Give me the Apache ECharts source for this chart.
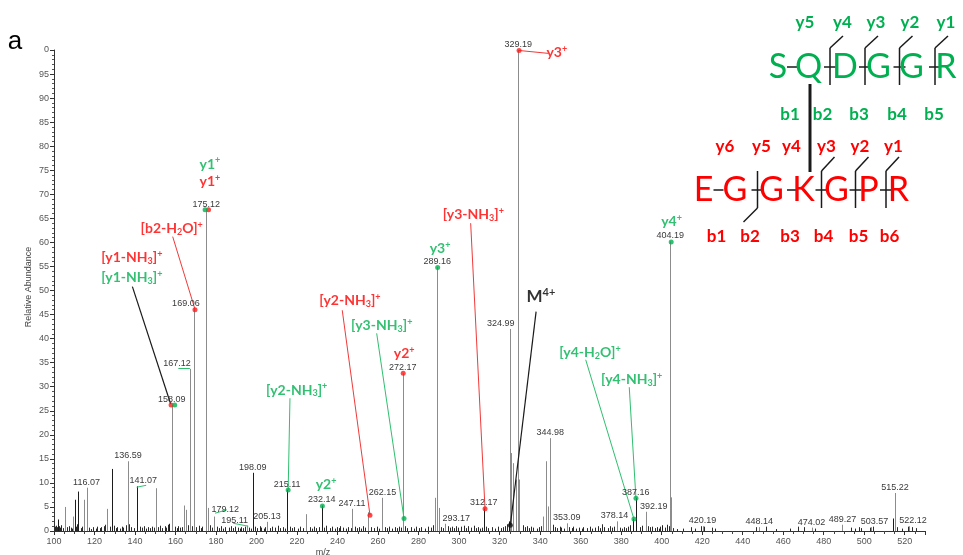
<!DOCTYPE html>
<html><head><meta charset="utf-8">
<script src="https://cdn.jsdelivr.net/npm/echarts@6/dist/echarts.min.js"></script>
<style>html,body{margin:0;padding:0;background:#fff}#c{width:963px;height:555px}</style>
</head><body><div id="c"></div>
<script>
// ---------------- DATA ----------------
const xTickValues = [100,120,140,160,180,200,220,240,260,280,300,320,340,360,380,400,420,440,460,480,500,520];
const yTickLabels = ['0','5','10','15','20','25','30','35','40','45','50','55','60','65','70','75','80','85','90','95','0'];

const grayPeakMz = [105.3,109.4,114.6,116.07,126.3,136.59,150.2,158.09,164.2,165.0,167.12,169.06,175.12,176.0,179.12,195.11,205.13,224.3,247.11,255.1,262.15,272.17,288.1,289.16,290.1,293.17,324.99,325.6,326.8,328.0,329.19,329.8,341.4,342.7,343.9,344.98,353.09,378.14,392.19,404.19,404.8,420.19,448.14,474.02,489.27,503.57,515.22,522.12];
const grayPeakAbundance = [5.0,3.0,6.5,9.0,4.6,14.5,8.9,26.2,5.3,4.4,33.7,46.1,66.8,4.8,3.0,1.1,1.9,3.5,4.6,3.9,6.9,32.8,6.9,54.9,4.8,1.5,42.0,16.2,14.1,10.7,100,10.7,3.0,14.5,5.1,19.3,1.6,2.0,4.0,60.2,7.0,1.0,0.8,0.7,1.3,0.8,7.9,1.0];

const blackPeakMz = [102.0,110.2,112.0,128.8,141.07,157.0,198.09,215.11,232.14,312.17,324.4,386.0,387.16,400.0,514.2];
const blackPeakAbundance = [2.4,6.5,8.2,12.9,9.3,1.5,12.1,8.6,5.3,4.7,2.0,2.5,6.9,1.2,2.6];

const noiseMz = [100.6,101.2,101.6,102.6,103.1,103.6,104.2,106.5,107.3,108.2,108.9,111.0,111.5,113.2,113.8,117.3,118.1,119.2,120.6,121.4,122.5,123.3,124.6,125.4,127.5,129.6,130.4,131.2,132.6,133.4,134.3,135.4,137.2,138.1,139.3,142.4,143.4,144.5,145.6,146.4,147.6,148.5,149.4,151.3,152.5,153.4,154.7,155.5,156.3,159.7,160.5,161.4,162.4,163.2,166.1,168.2,170.3,171.4,172.5,173.3,177.2,178.1,180.5,181.6,182.4,183.6,184.5,186.3,187.4,188.2,189.5,190.7,191.6,192.5,193.3,194.2,196.4,197.2,199.3,200.4,201.5,202.4,203.5,204.3,206.5,207.4,209.2,210.6,211.5,213.3,214.2,216.5,217.4,218.6,220.3,221.5,222.7,226.2,227.3,228.4,229.5,230.6,233.5,234.4,236.3,237.4,238.5,239.7,240.6,241.4,242.5,244.2,245.3,246.4,248.5,249.4,250.5,251.4,252.6,253.5,256.7,258.2,259.4,260.5,263.5,264.4,265.6,266.7,268.2,269.3,270.5,271.3,273.5,274.4,276.3,277.5,278.7,280.3,281.4,283.2,284.5,286.3,287.2,291.3,292.2,294.4,295.3,296.5,297.4,298.6,299.5,300.7,302.3,303.4,304.5,305.7,307.4,308.2,309.5,310.4,311.4,313.5,314.3,316.4,317.5,319.4,320.5,321.5,322.6,323.5,331.3,332.3,333.6,334.5,335.5,336.7,338.3,339.4,340.4,346.3,347.3,348.4,349.6,350.5,351.7,354.3,355.5,356.4,357.7,359.3,360.5,361.4,363.3,364.5,365.6,367.3,368.5,369.6,370.5,371.7,373.3,374.5,375.4,376.6,379.3,380.5,381.4,382.4,383.5,384.6,389.5,390.4,393.3,394.4,395.4,396.5,397.5,398.5,399.4,401.5,402.5,403.4,405.7,407.4,410.3,414.5,416.4,419.4,420.9,424.6,426.4,446.5,451.5,456.5,463.5,467.4,470.5,475.5,493.4,495.6,497.4,498.5,502.8,504.5,516.4,518.5,521.4,523.6,525.4];
const noiseAbundance = [0.9,1.1,0.8,1.0,0.7,1.2,0.6,0.8,1.0,0.7,0.5,0.9,1.4,0.6,0.9,0.7,0.4,0.8,0.5,0.9,0.6,0.8,1.0,1.3,0.9,1.1,0.6,0.8,0.5,0.9,0.7,1.2,1.4,0.8,0.6,0.9,0.7,1.0,0.5,0.8,0.6,0.9,0.7,0.8,1.1,0.6,1.0,0.7,1.3,0.9,0.6,1.0,0.7,0.8,1.2,1.0,0.8,1.1,0.6,0.9,1.2,0.7,0.9,0.6,1.0,0.5,0.8,0.7,1.0,0.6,0.9,0.7,0.5,0.8,0.6,0.9,0.7,0.5,0.9,0.6,1.0,0.7,0.5,0.8,0.6,0.9,0.7,1.1,0.6,0.8,0.5,0.9,0.6,0.8,0.5,0.9,0.6,0.8,0.5,0.9,0.6,0.8,0.7,1.1,0.6,0.9,0.5,0.8,0.6,1.0,0.7,0.5,0.8,0.6,0.9,0.6,0.8,0.5,1.0,0.7,0.8,0.6,0.9,0.5,0.8,0.6,0.9,0.5,0.8,0.6,0.9,0.7,1.0,0.6,0.8,0.5,0.9,0.6,0.8,0.5,0.9,0.7,1.2,0.8,0.6,1.0,0.7,0.9,0.6,1.0,0.7,0.9,1.1,0.6,1.0,0.7,1.1,0.6,0.8,0.5,0.7,0.9,0.6,0.8,0.5,0.9,0.6,0.8,1.0,1.4,1.2,0.8,1.0,0.6,0.9,0.7,0.5,0.8,1.0,1.3,0.8,0.6,0.9,0.7,0.5,0.8,0.6,0.9,0.5,0.7,0.5,0.8,0.6,0.9,0.5,0.7,1.0,0.6,1.4,0.8,0.6,1.0,0.7,0.9,0.7,0.5,0.8,0.6,0.9,1.2,0.8,1.1,1.0,0.8,0.9,0.6,0.8,0.5,0.9,0.7,1.3,1.0,0.6,0.4,0.5,0.8,0.5,1.0,0.9,0.7,0.5,0.8,0.9,0.4,0.5,0.9,0.8,0.5,0.7,0.5,0.8,0.6,0.7,0.9,0.8,0.5,0.9,0.8,0.6];

const labeledMz = [116.07,136.59,141.07,158.09,167.12,169.06,175.12,179.12,195.11,198.09,205.13,215.11,232.14,247.11,262.15,272.17,289.16,293.17,312.17,324.99,329.19,344.98,353.09,378.14,387.16,392.19,404.19,420.19,448.14,474.02,489.27,503.57,515.22,522.12];
const labeledText = ['116.07','136.59','141.07','158.09','167.12','169.06','175.12','179.12','195.11','198.09','205.13','215.11','232.14','247.11','262.15','272.17','289.16','293.17','312.17','324.99','329.19','344.98','353.09','378.14','387.16','392.19','404.19','420.19','448.14','474.02','489.27','503.57','515.22','522.12'];

const redMarkerMz = [157.8,169.6,176.3,256.0,272.4,312.8,329.6];
const redMarkerAbundance = [26.2,46.0,66.8,3.3,32.8,4.6,99.9];
const greenMarkerMz = [159.6,174.6,215.6,232.5,272.8,289.4,386.3,387.3,404.7];
const greenMarkerAbundance = [26.2,66.8,8.5,5.2,2.6,54.8,2.5,6.8,60.1];
const blackMarkerMz = [325.3];
const blackMarkerAbundance = [1.2];

const ionText = ['y1^+','y1^+','[b2-H_2O]^+','[y1-NH_3]^+','[y1-NH_3]^+','[y2-NH_3]^+','y2^+','[y2-NH_3]^+','[y3-NH_3]^+','y2^+','y3^+','[y3-NH_3]^+','M^4+','y3^+','y4^+','[y4-H_2O]^+','[y4-NH_3]^+'];
const ionColor = ['g','r','r','r','g','g','g','r','g','r','g','r','k','r','g','g','g'];

const greenPeptide = ['S','Q','D','G','G','R'];
const greenYIons = ['y5','y4','y3','y2','y1'];
const greenBIons = ['b1','b2','b3','b4','b5'];
const redPeptide = ['E','G','G','K','G','P','R'];
const redYIons = ['y6','y5','y4','y3','y2','y1'];
const redBIons = ['b1','b2','b3','b4','b5','b6'];

// ---------------- LAYOUT (annotation placement in data coords) ----------------
const ionAnchor = [[177.0,76.3],[177.0,72.6],[158.1,62.9],[138.4,56.9],[138.4,52.7],[219.8,29.3],[234.3,9.6],[246.1,48.0],[261.8,42.8],[272.9,36.9],[290.6,58.8],[307.0,65.7],[340.4,48.7],[348.2,99.4],[404.9,64.3],[364.6,37.1],[385.2,31.4]];
const leaderLines = [
  ['r',[158.6,61.2],[169.6,46.1]],
  ['k',[138.7,50.8],[157.6,26.4]],
  ['g',[216.5,27.6],[215.6,8.5]],
  ['r',[242.3,45.9],[256.0,3.3]],
  ['g',[259.3,41.1],[272.8,2.6]],
  ['r',[305.7,64.0],[312.8,4.6]],
  ['k',[338.0,45.6],[325.3,1.2]],
  ['r',[329.6,99.9],[344.0,99.3]],
  ['g',[362.5,35.6],[386.3,2.5]],
  ['g',[384.0,29.9],[387.3,6.8]],
  ['g',[140.8,9.1],[145.5,9.5]],
  ['g',[179.5,3.7],[185.3,4.4]],
  ['g',[188.5,1.6],[195.9,1.0]],
  ['g',[161.4,33.8],[167.1,33.8]]
];
const labelShift = {'167.12':[-13,0],'169.06':[-8,0],'141.07':[6,0],'179.12':[11,-2],'195.11':[-12,0],'293.17':[11,0],'324.99':[-9,0],'378.14':[-3,0],'392.19':[8,0],'503.57':[3,0],'522.12':[4,0]};

const COLORS = {r:'#ff0000', g:'#00b050', k:'#000000'};
const LINECOL = {r:'#f03a3a', g:'#2fbf6f', k:'#1a1a1a'};

// ---------------- BUILD ----------------
const allMz = grayPeakMz.concat(blackPeakMz);
const allAb = grayPeakAbundance.concat(blackPeakAbundance);
function abundanceAt(m){ const i = allMz.indexOf(m); return i >= 0 ? allAb[i] : 0; }

function peakSeries(mz, ab, color, z){
  return {
    type:'custom', silent:true, z: z, animation:false,
    data: mz.map((m,i)=>[m, ab[i]]),
    renderItem: function(params, api){
      const top = api.coord([api.value(0), api.value(1)]);
      const base = api.coord([api.value(0), 0]);
      const x = Math.round(top[0]) + 0.5;
      return {type:'line', shape:{x1:x, y1:top[1], x2:x, y2:base[1]}, style:{stroke:color, lineWidth:1}};
    }
  };
}

function ionRich(t, c){
  let out = '', buf = '', i = 0;
  const flush = ()=>{ if(buf){ out += '{' + c + 't|' + buf + '}'; buf=''; } };
  while(i < t.length){
    const ch = t[i];
    if(ch === '_'){ flush(); out += '{' + c + 's|' + t[i+1] + '}'; i += 2; }
    else if(ch === '^'){ flush(); out += '{' + c + 'p|' + t.slice(i+1) + '}'; i = t.length; }
    else { buf += ch; i++; }
  }
  flush();
  return out;
}
const ionFont = 'Lato';
const rich = {};
['r','g','k'].forEach(c=>{
  const big = c === 'k';
  rich[c+'t'] = {color:COLORS[c], fontFamily:ionFont, fontWeight:'bold', fontSize: big?17:14, lineHeight: big?19:16};
  rich[c+'s'] = {color:COLORS[c], fontFamily:ionFont, fontWeight:'bold', fontSize: 9, lineHeight: 9, verticalAlign:'bottom'};
  rich[c+'p'] = {color:COLORS[c], fontFamily:ionFont, fontWeight:'bold', fontSize: big?11:9, lineHeight: big?11:9, verticalAlign:'top'};
});

function markerSeries(mz, ab, color){
  return {type:'scatter', silent:true, animation:false, z:6, symbol:'circle', symbolSize:5,
    itemStyle:{color:color}, data: mz.map((m,i)=>[m, ab[i]])};
}

// graphic (peptide schematic & misc text)
const g = [];
function gtext(x,y,t,color,size,weight,extra){
  g.push(Object.assign({type:'text', x:x, y:y, silent:true, z:10,
    style:{text:t, fill:color, font: weight + ' ' + size + 'px ' + (extra && extra.family || 'Lato'), align:'center', verticalAlign:'middle'}}, extra && extra.el || {}));
}
function gline(x1,y1,x2,y2,w){
  g.push({type:'line', silent:true, z:9, shape:{x1:x1,y1:y1,x2:x2,y2:y2}, style:{stroke:'#1a1a1a', lineWidth:w||1.5}});
}
// green peptide
const gLetterX = [778,808.5,845,878.5,911.5,946];
greenPeptide.forEach((s,i)=>gtext(gLetterX[i],67.5,s,COLORS.g,34,'normal'));
gline(787,67,798,67);
[830,865,899.5,935].forEach(x=>{ gline(x,48,x,85); gline(x-6,67,x+6,67); gline(x,48,x+13,36); });
const gYX = [805,842.5,876,910,946];
greenYIons.forEach((s,i)=>gtext(gYX[i],22.5,s,COLORS.g,17,'bold'));
const gBX = [790,822.5,859,897,934];
greenBIons.forEach((s,i)=>gtext(gBX[i],115,s,COLORS.g,17,'bold'));
// crosslink
gline(810,84,810,172,3);
// red peptide
const rLetterX = [703.5,735,771.5,803.5,836.5,868.5,898.5];
redPeptide.forEach((s,i)=>gtext(rLetterX[i],190,s,COLORS.r,34,'normal'));
gline(713.5,190,723.5,190); gline(787,190,798,190);
[757.5,821.5,855.5,886].forEach((x,k)=>{
  gline(x,171,x,208); gline(x-6,190,x+6,190);
  if(k===0) gline(x,208,x-14,222); else gline(x,171,x+13,157);
});
const rYX = [725,761.5,791.5,826.5,860,893.5];
redYIons.forEach((s,i)=>gtext(rYX[i],146.5,s,COLORS.r,17,'bold'));
const rBX = [716.5,750,790,823.5,858.5,889.5];
redBIons.forEach((s,i)=>gtext(rBX[i],236.5,s,COLORS.r,17,'bold'));
// panel letter and axis titles
gtext(15,42,'a','#000',26,'normal',{family:'"Liberation Sans"'});
gtext(29,287,'Relative Abundance','#444',9,'normal',{family:'"Liberation Sans"', el:{rotation:Math.PI/2}});
gtext(323,553,'m/z','#444',9,'normal',{family:'"Liberation Sans"'});

const option = {
  animation:false,
  backgroundColor:'#fff',
  grid:{left:54, right:38, top:50, bottom:24, containLabel:false},
  xAxis:{type:'value', min:100, max:530, interval:20,
    axisLine:{show:true, lineStyle:{color:'#333', width:1}},
    axisTick:{show:true, length:4, lineStyle:{color:'#333'}},
    minorTick:{show:true, splitNumber:4, length:3, lineStyle:{color:'#444'}},
    splitLine:{show:false}, minorSplitLine:{show:false},
    axisLabel:{show:true, fontSize:9, color:'#555', margin:6, fontFamily:'Liberation Sans', showMaxLabel:false,
      formatter:(v)=> xTickValues.indexOf(v) >= 0 ? String(v) : ''}
  },
  yAxis:{type:'value', min:0, max:100, interval:5,
    axisLine:{show:true, lineStyle:{color:'#333', width:1}},
    axisTick:{show:true, length:4, lineStyle:{color:'#333'}},
    minorTick:{show:true, splitNumber:5, length:2, lineStyle:{color:'#555'}},
    splitLine:{show:false},
    axisLabel:{fontSize:9, color:'#555', margin:5, fontFamily:'Liberation Sans',
      formatter:(v)=> yTickLabels[Math.round(v/5)]}
  },
  graphic:{elements:g},
  series:[
    peakSeries(noiseMz, noiseAbundance, '#2a2a2a', 2),
    peakSeries(grayPeakMz, grayPeakAbundance, '#8c8c8c', 3),
    peakSeries(blackPeakMz, blackPeakAbundance, '#1c1c1c', 4),
    {type:'custom', silent:true, z:5, animation:false,
      data: labeledMz.map((m,i)=>[m, abundanceAt(m), i]),
      renderItem:function(params, api){
        const i = api.value(2);
        const pt = api.coord([api.value(0), api.value(1)]);
        const off = labelShift[labeledText[i]] || [0,0];
        return {type:'text', x: pt[0] + off[0], y: pt[1] - 1 + off[1],
          style:{text: labeledText[i], fill:'#3a3a3a', font:'9px "Liberation Sans"', align:'center', verticalAlign:'bottom'}};
      }
    },
    markerSeries(redMarkerMz, redMarkerAbundance, '#ff1a1a'),
    markerSeries(greenMarkerMz, greenMarkerAbundance, '#00b050'),
    markerSeries(blackMarkerMz, blackMarkerAbundance, '#111'),
    {type:'scatter', silent:true, animation:false, z:8, symbol:'circle', symbolSize:1,
      itemStyle:{color:'rgba(0,0,0,0)'},
      data: ionAnchor.map((p,i)=>({value:p, label:{formatter: ionRich(ionText[i], ionColor[i])}})),
      label:{show:true, position:'inside', rich:rich},
      markLine:{silent:true, animation:false, symbol:['none','none'], label:{show:false},
        lineStyle:{type:'solid', width:1},
        emphasis:{disabled:true},
        data: leaderLines.map(l=>[{coord:l[1], lineStyle:{color:LINECOL[l[0]], width: l[0]==='k'?1.2:1}}, {coord:l[2]}])
      }
    }
  ]
};
const chart = echarts.init(document.getElementById('c'), null, {renderer:'canvas'});
chart.setOption(option);
</script>
</body></html>
